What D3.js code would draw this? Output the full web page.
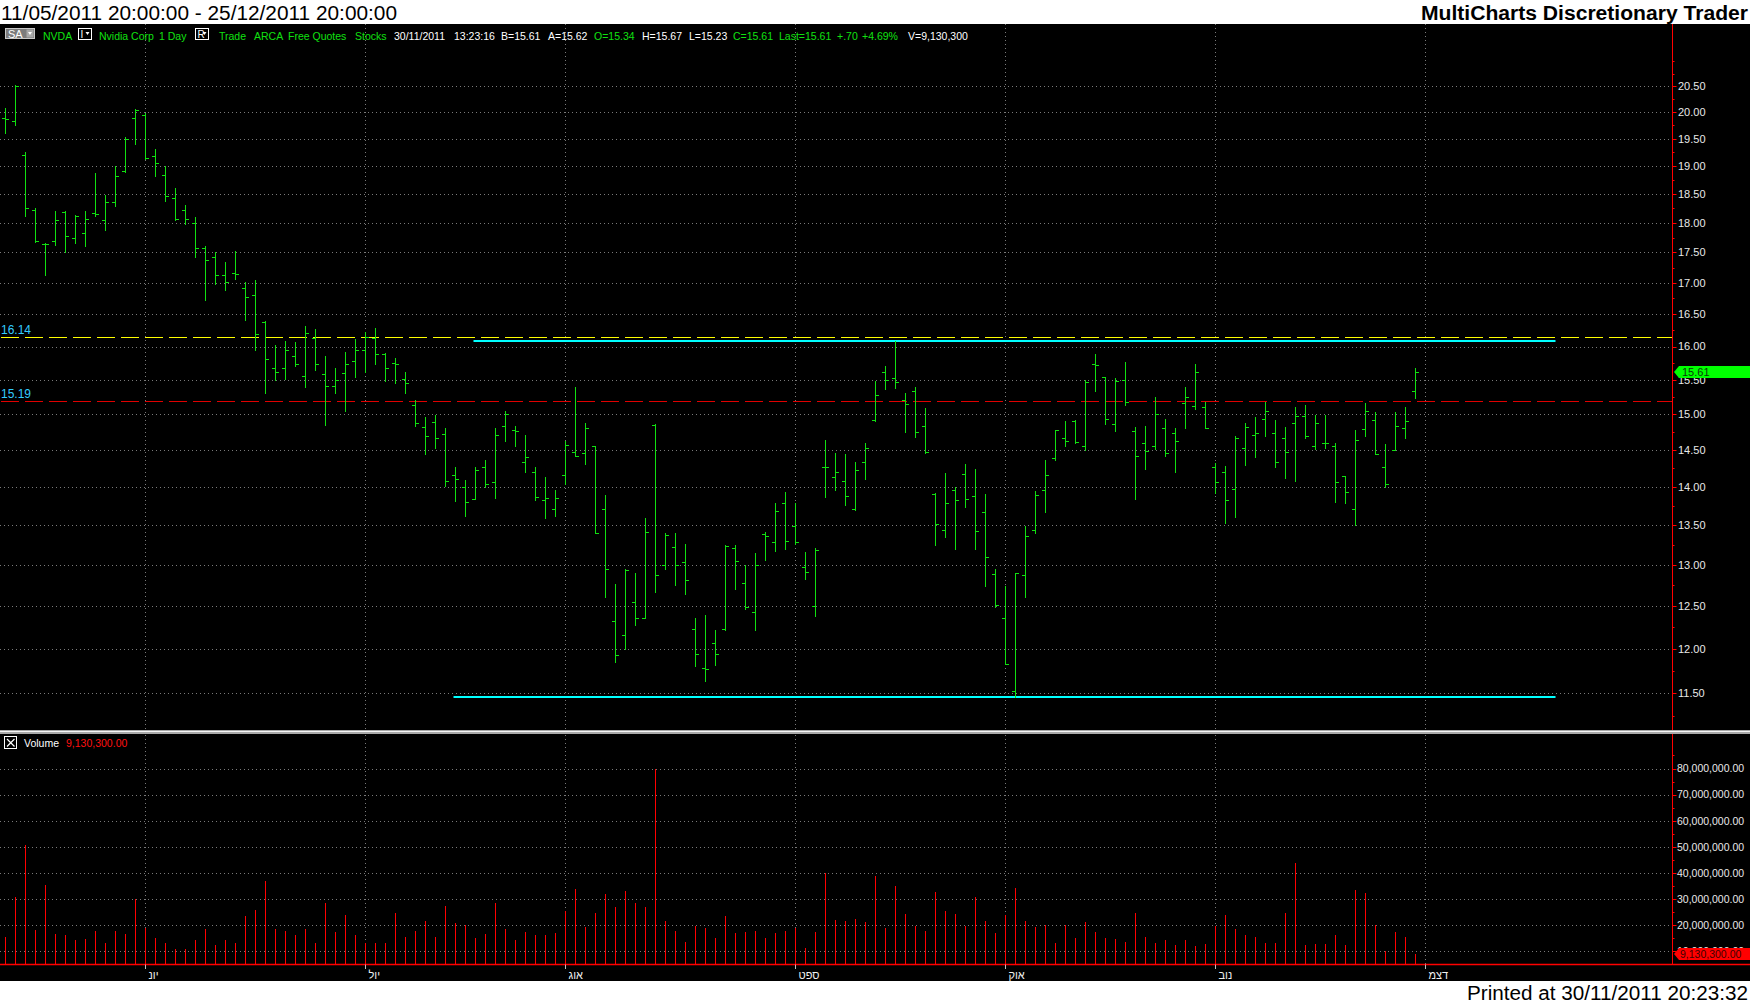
<!DOCTYPE html>
<html><head><meta charset="utf-8">
<script src="https://cdn.jsdelivr.net/npm/d3@7"></script>
<style>
body{margin:0;background:#fff;}
svg{display:block;}
text{font-family:"Liberation Sans","DejaVu Sans",Arial,sans-serif;}
</style>
</head><body>
<svg id="c" width="1750" height="1005"></svg>
<script>
// ---------------- DATA ----------------
const opens=[19.89,19.83,19.21,18.23,17.64,17.70,18.19,17.74,17.83,18.17,18.05,18.36,18.92,19.89,19.95,19.19,18.84,18.43,18.22,18.00,
17.57,17.42,17.13,17.16,16.92,16.80,16.38,15.68,15.68,15.86,15.55,16.13,15.58,15.41,15.60,15.78,15.95,16.13,15.88,15.75,
15.51,15.14,14.82,14.89,14.72,14.16,14.00,13.84,14.27,14.07,14.83,14.78,14.34,14.20,13.83,13.70,14.16,14.47,14.46,14.55,
13.71,12.32,12.16,12.54,12.35,14.85,13.00,13.22,13.03,12.23,11.78,12.07,12.23,13.21,12.77,12.42,13.38,13.28,13.79,13.49,
12.97,12.50,14.26,14.13,14.08,13.70,14.33,14.92,15.62,15.53,15.21,15.34,14.83,13.91,13.43,13.96,14.17,13.88,13.67,12.88,
12.36,11.53,12.87,13.43,13.96,14.39,14.67,14.90,14.55,15.74,15.54,14.86,15.50,14.76,14.60,14.55,14.81,14.73,15.16,15.12,
15.10,14.27,14.20,13.97,14.53,14.71,14.93,14.74,14.66,14.88,14.97,14.56,14.60,14.56,14.15,13.71,14.79,14.92,14.26,14.50,
14.81,15.34];
const highs=[20.08,20.53,19.26,18.25,17.66,18.20,18.20,18.14,18.21,18.88,18.49,19.00,19.54,20.06,19.98,19.32,19.01,18.61,18.31,18.10,
17.61,17.50,17.34,17.52,17.02,17.05,16.39,16.02,16.09,16.07,16.32,16.27,15.85,15.68,15.91,16.12,16.22,16.29,15.90,15.83,
15.62,15.21,14.96,14.99,14.81,14.26,14.09,14.26,14.36,14.81,15.05,14.84,14.71,14.27,14.13,13.96,14.62,15.39,14.87,14.55,
13.89,12.76,12.94,12.90,13.59,14.86,13.40,13.40,13.26,12.36,12.39,12.21,13.24,13.24,13.00,13.15,13.41,13.79,13.93,13.79,
13.16,13.21,14.64,14.46,14.45,14.34,14.60,15.48,15.71,16.08,15.31,15.40,15.09,13.92,14.19,14.00,14.30,14.24,13.90,12.94,
12.74,12.89,13.49,13.94,14.36,14.78,14.91,14.92,15.50,15.89,15.54,15.53,15.77,14.82,14.84,15.25,14.94,14.81,15.40,15.74,
15.18,14.32,14.28,14.69,14.88,14.96,15.18,14.92,14.82,15.10,15.13,14.99,14.99,14.60,14.15,14.78,15.16,15.03,14.58,15.04,
15.10,15.67];
const lows=[19.61,19.75,18.12,17.68,17.12,17.63,17.50,17.66,17.60,18.12,17.87,18.30,18.89,19.40,19.12,18.82,18.37,18.05,17.98,17.43,
16.73,16.98,16.88,17.07,16.41,15.94,15.31,15.50,15.52,15.70,15.39,15.64,14.85,15.31,15.05,15.54,15.62,15.74,15.48,15.46,
15.31,14.84,14.44,14.52,14.01,13.81,13.61,13.84,14.00,13.85,14.63,14.55,14.20,13.82,13.59,13.61,14.04,14.41,14.31,13.40,
12.60,11.85,12.00,12.27,12.35,12.66,12.94,12.75,12.64,11.80,11.64,11.81,12.21,12.70,12.46,12.21,13.06,13.17,13.20,13.26,
12.82,12.38,13.86,13.96,13.76,13.69,14.11,14.90,15.36,15.38,14.75,14.68,14.46,13.25,13.34,13.20,13.73,13.20,12.74,12.48,
11.82,11.46,12.61,13.40,13.67,14.36,14.56,14.59,14.50,15.33,14.86,14.77,15.13,13.84,14.24,14.51,14.41,14.20,14.81,15.07,
14.81,13.92,13.52,13.60,14.29,14.40,14.69,14.27,14.12,14.08,14.66,14.51,14.53,13.80,13.79,13.50,14.70,14.44,14.00,14.50,
14.67,15.23];
const closes=[19.87,20.51,18.25,17.70,17.64,18.05,17.77,18.11,18.07,18.16,18.36,18.83,19.50,20.04,19.14,19.06,18.46,18.07,18.07,17.57,
17.37,17.13,17.01,17.15,16.77,16.19,15.81,15.62,15.95,15.74,16.21,15.74,15.41,15.50,15.74,15.95,16.14,15.89,15.68,15.74,
15.45,14.88,14.69,14.67,14.08,14.11,13.80,14.23,14.04,14.71,15.00,14.77,14.40,13.87,13.85,13.85,14.57,14.42,14.81,13.40,
12.94,11.93,12.93,12.35,13.41,12.87,13.37,12.99,12.81,11.94,11.77,11.94,13.23,13.04,12.49,13.00,13.36,13.68,13.30,13.28,
12.91,13.18,14.26,14.20,13.88,14.22,14.53,15.28,15.50,15.47,15.15,14.75,14.47,13.51,13.79,13.83,13.84,13.42,13.09,12.51,
11.82,12.89,13.36,13.89,14.16,14.78,14.63,14.61,15.47,15.72,14.94,15.49,15.18,14.42,14.49,15.01,14.46,14.63,15.25,15.61,
14.81,14.07,13.82,14.66,14.82,14.74,15.05,14.33,14.47,14.97,14.69,14.88,14.59,14.07,13.93,14.64,15.05,14.44,14.04,14.83,
14.91,15.61];
// volume in millions of shares
const volumesM=[15.4,30.7,50.6,18.2,35.3,16.5,16.1,14.2,14.6,18.0,13.4,17.7,16.5,29.9,18.8,15.0,13.4,10.8,10.8,14.2,
18.4,12.3,14.2,13.1,23.4,25.7,36.8,18.4,17.7,16.1,18.4,13.1,28.4,17.3,23.8,16.1,13.4,13.1,13.1,24.6,
15.4,17.7,21.5,15.7,27.2,20.7,20.3,15.0,16.5,28.4,18.4,14.2,17.3,16.1,16.1,16.9,25.3,33.8,19.2,24.6,
31.8,26.9,33.0,28.4,26.9,80.0,21.5,17.7,13.8,19.8,18.8,15.0,23.4,16.9,17.3,18.0,15.0,16.9,17.7,18.8,
11.5,17.3,40.1,21.9,21.5,22.6,21.1,38.7,18.8,34.9,24.2,19.6,17.7,32.6,25.3,24.2,19.6,30.7,21.5,16.9,
23.8,34.1,21.5,19.2,20.0,13.1,20.3,15.0,21.1,17.3,15.0,14.6,13.8,24.6,15.7,13.1,14.2,12.3,14.2,11.9,
12.7,19.6,23.8,18.4,16.1,15.4,13.4,13.1,24.6,43.7,12.3,12.7,12.7,16.1,12.3,33.4,32.2,20.3,10.0,17.3,
15.4,9.1303];
const monthIdx=[14,36,56,79,100,121,142];
const monthLabels=["יונ","יול","אוג","ספט","אוק","נוב","דצמ"];
const priceTicks=[11.5,12,12.5,13,13.5,14,14.5,15,15.5,16,16.5,17,17.5,18,18.5,19,19.5,20,20.5];
const priceMinorTicks=[11.25,11.75,12.25,12.75,13.25,13.75,14.25,14.75,15.25,15.75,16.25,16.75,17.25,17.75,18.25,18.75,19.25,19.75,20.25,20.75,21];
const volTicksM=[10,20,30,40,50,60,70,80];
const volMinorTicksM=[15,25,35,45,55,65,75,85];
const levelValues=[16.14,15.19];
const trendValues=[16.09,11.46];
const trendFrom=[47,45];
const trendTo=[155,155];
const lastPrice=15.61, lastVolM=9.1303;
const headerTitle="11/05/2011 20:00:00 - 25/12/2011 20:00:00";
const appTitle="MultiCharts Discretionary Trader";
const printed="Printed at 30/11/2011 20:23:32";

// ---------------- SCALES ----------------
const svg=d3.select("#c");
const AXIS_X=1672.5;
const x=d3.scaleLinear().domain([0,1]).range([5.5,15.5]);
const y=d3.scaleLog().domain([20.5,11.5]).range([86.3,693.3]);
const yv=d3.scaleLinear().domain([80,20]).range([768.5,925.3]);
const VBASE=964.5;
const px=v=>Math.round(v)+0.5;

// backgrounds
svg.append("rect").attr("width",1750).attr("height",1005).attr("fill","#fff");
svg.append("rect").attr("x",0).attr("y",24).attr("width",1750).attr("height",957).attr("fill","#000");

// titles
svg.append("text").attr("x",1).attr("y",19.5).attr("font-size",20).attr("fill","#000")
  .attr("textLength",396).attr("lengthAdjust","spacingAndGlyphs").text(headerTitle);
svg.append("text").attr("x",1748).attr("y",19.5).attr("font-size",20).attr("font-weight","bold").attr("fill","#000")
  .attr("text-anchor","end").attr("textLength",327).attr("lengthAdjust","spacingAndGlyphs").text(appTitle);
svg.append("text").attr("x",1748).attr("y",1000).attr("font-size",20).attr("fill","#000")
  .attr("text-anchor","end").attr("textLength",281).attr("lengthAdjust","spacingAndGlyphs").text(printed);

// grid
const grid=svg.append("g").attr("stroke","#7a7a7a").attr("stroke-dasharray","1,3").attr("stroke-width",1);
priceTicks.forEach(p=>grid.append("line").attr("x1",0).attr("x2",AXIS_X).attr("y1",px(y(p))).attr("y2",px(y(p))));
volTicksM.forEach(v=>grid.append("line").attr("x1",0).attr("x2",AXIS_X).attr("y1",px(yv(v))).attr("y2",px(yv(v))));
monthIdx.forEach(i=>{
  grid.append("line").attr("x1",x(i)).attr("x2",x(i)).attr("y1",24).attr("y2",729);
  grid.append("line").attr("x1",x(i)).attr("x2",x(i)).attr("y1",735).attr("y2",964);
});

// header legend row
const lg=svg.append("g").attr("font-size",11);
const G="#10e010", Wt="#ffffff";
lg.append("rect").attr("x",5.5).attr("y",28.5).attr("width",29).attr("height",10).attr("fill","#7c7c7c").attr("stroke","#c8c8c8");
lg.append("rect").attr("x",26.5).attr("y",29.5).attr("width",7).attr("height",8).attr("fill","#a8a8a8");
lg.append("path").attr("d","M28,32 L32,32 L30,35 Z").attr("fill","#fff");
lg.append("text").attr("x",8).attr("y",37.5).attr("fill","#fff").text("SA");
const items=[
 [43,"NVDA",G],[99,"Nvidia Corp",G],[159,"1 Day",G],[219,"Trade",G],[254,"ARCA",G],[288,"Free Quotes",G],[355,"Stocks",G],
 [394,"30/11/2011",Wt],[454,"13:23:16",Wt],[501,"B=15.61",Wt],[548,"A=15.62",Wt],[594,"O=15.34",G],[642,"H=15.67",Wt],
 [689,"L=15.23",Wt],[733,"C=15.61",G],[779,"Last=15.61",G],[837,"+.70",G],[862,"+4.69%",G],[908,"V=9,130,300",Wt]];
items.forEach(d=>lg.append("text").attr("x",d[0]).attr("y",39.5).attr("fill",d[2]).attr("font-size",10.5).text(d[1]));
[[78.5,"I"],[195.5,"R"]].forEach(d=>{
  lg.append("rect").attr("x",d[0]).attr("y",28.5).attr("width",13).attr("height",11).attr("fill","none").attr("stroke","#fff");
  lg.append("text").attr("x",d[0]+2).attr("y",37.5).attr("fill","#fff").attr("font-size",10).text(d[1]);
  lg.append("path").attr("d",`M${d[0]+7},32 L${d[0]+11},32 L${d[0]+9},35 Z`).attr("fill","#fff");
});

// level lines (dashed) and labels
const levelColors=["#ffff00","#e00000"];
levelValues.forEach((v,k)=>{
  svg.append("line").attr("x1",1).attr("x2",AXIS_X).attr("y1",px(y(v))).attr("y2",px(y(v)))
    .attr("stroke",levelColors[k]).attr("stroke-width",1).attr("stroke-dasharray","18,6");
  svg.append("text").attr("x",1).attr("y",Math.round(y(v))-3).attr("font-size",12).attr("fill","#33ccff").text(d3.format(".2f")(v));
});
// trend lines
trendValues.forEach((v,k)=>{
  svg.append("line").attr("x1",x(trendFrom[k])-2).attr("x2",x(trendTo[k])).attr("y1",Math.round(y(v))).attr("y2",Math.round(y(v)))
    .attr("stroke","#00ffff").attr("stroke-width",2);
});

// OHLC bars
const bars=svg.append("g").attr("stroke",G).attr("stroke-width",1);
opens.forEach((o,i)=>{
  const xi=x(i);
  bars.append("line").attr("x1",xi).attr("x2",xi).attr("y1",Math.round(y(highs[i]))).attr("y2",Math.round(y(lows[i]))+1);
  bars.append("line").attr("x1",xi-3.5).attr("x2",xi).attr("y1",px(y(o))).attr("y2",px(y(o)));
  bars.append("line").attr("x1",xi).attr("x2",xi+3.5).attr("y1",px(y(closes[i]))).attr("y2",px(y(closes[i])));
});

// separator
svg.append("rect").attr("x",0).attr("y",730).attr("width",1750).attr("height",4).attr("fill","#a8a8a8");
svg.append("line").attr("x1",0).attr("x2",1750).attr("y1",731.5).attr("y2",731.5).attr("stroke","#f4f4f4");

// volume legend
svg.append("rect").attr("x",4.5).attr("y",736.5).attr("width",12).attr("height",12).attr("fill","none").attr("stroke","#fff");
svg.append("path").attr("d","M7,739 L14.5,746.5 M14.5,739 L7,746.5").attr("stroke","#fff").attr("stroke-width",1.2);
svg.append("text").attr("x",24).attr("y",747).attr("font-size",10.5).attr("fill","#fff").text("Volume");
svg.append("text").attr("x",66).attr("y",747).attr("font-size",10.5).attr("fill","#ff1010").text(d3.format(",.2f")(lastVolM*1e6));

// volume bars
const vb=svg.append("g").attr("stroke","#ff0000").attr("stroke-width",1);
volumesM.forEach((v,i)=>{
  vb.append("line").attr("x1",x(i)).attr("x2",x(i)).attr("y1",Math.round(yv(v))).attr("y2",VBASE);
});
svg.append("line").attr("x1",0).attr("x2",1750).attr("y1",VBASE).attr("y2",VBASE).attr("stroke","#ff0000").attr("stroke-width",1.5);

// right axis
svg.append("line").attr("x1",AXIS_X).attr("x2",AXIS_X).attr("y1",24).attr("y2",730).attr("stroke","#ff0000");
svg.append("line").attr("x1",AXIS_X).attr("x2",AXIS_X).attr("y1",734).attr("y2",VBASE).attr("stroke","#ff0000");
const ax=svg.append("g").attr("stroke","#ff0000");
priceTicks.forEach(p=>ax.append("line").attr("x1",AXIS_X).attr("x2",AXIS_X+4).attr("y1",px(y(p))).attr("y2",px(y(p))));
priceMinorTicks.forEach(p=>ax.append("line").attr("x1",AXIS_X).attr("x2",AXIS_X+2).attr("y1",px(y(p))).attr("y2",px(y(p))));
volTicksM.forEach(v=>ax.append("line").attr("x1",AXIS_X).attr("x2",AXIS_X+4).attr("y1",px(yv(v))).attr("y2",px(yv(v))));
volMinorTicksM.forEach(v=>ax.append("line").attr("x1",AXIS_X).attr("x2",AXIS_X+2).attr("y1",px(yv(v))).attr("y2",px(yv(v))));
const lbl=svg.append("g").attr("font-size",11).attr("fill","#e8e8e8");
priceTicks.forEach(p=>lbl.append("text").attr("x",1678).attr("y",y(p)).attr("dy","0.36em").text(d3.format(".2f")(p)));
volTicksM.forEach(v=>lbl.append("text").attr("x",1677).attr("y",yv(v)).attr("dy","0.36em").attr("font-size",10.5).text(d3.format(",.2f")(v*1e6)));

// last price marker
const yp=Math.round(y(lastPrice));
svg.append("path").attr("d",`M1674,${yp} L1679,${yp-6} L1750,${yp-6} L1750,${yp+6} L1679,${yp+6} Z`).attr("fill","#00ff00");
svg.append("text").attr("x",1682).attr("y",yp).attr("dy","0.36em").attr("font-size",11).attr("fill","#0a3a0a").text(d3.format(".2f")(lastPrice));
// last volume marker
const yl=Math.round(yv(lastVolM));
svg.append("path").attr("d",`M1674,${yl} L1679,${yl-6} L1750,${yl-6} L1750,${yl+6} L1679,${yl+6} Z`).attr("fill","#ff0000");
svg.append("text").attr("x",1680).attr("y",yl).attr("dy","0.36em").attr("font-size",10.5).attr("fill","#400000").text(d3.format(",.2f")(lastVolM*1e6));

// time axis (Hebrew month abbreviations, normal right-to-left rendering)
monthIdx.forEach((i,k)=>{
  svg.append("line").attr("x1",x(i)).attr("x2",x(i)).attr("y1",VBASE).attr("y2",969).attr("stroke","#c0c0c0");
  svg.append("text").attr("x",x(i)+3).attr("y",979).attr("font-size",11).attr("fill","#f0f0f0").text(monthLabels[k]);
});
</script>
</body></html>
